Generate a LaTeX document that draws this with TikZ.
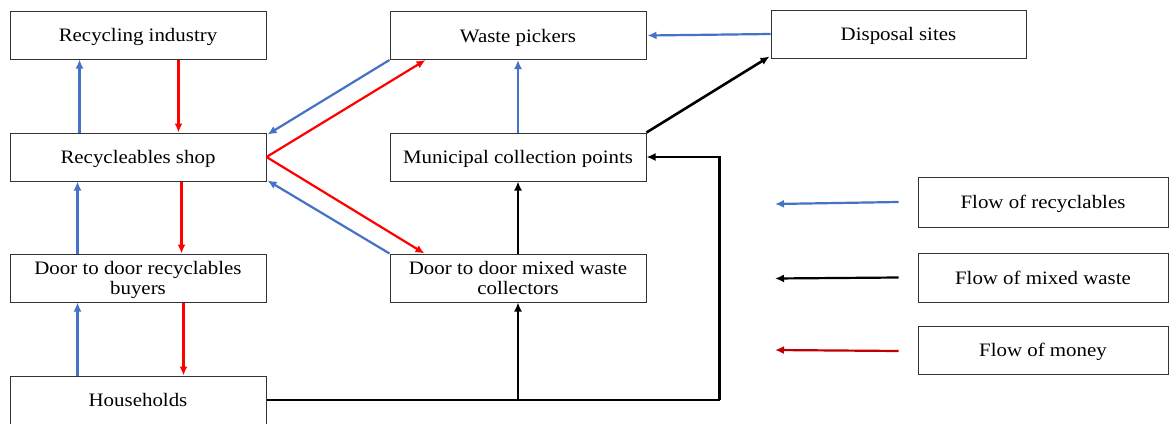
\documentclass[tikz,border=0pt]{standalone}
\usepackage{fontspec}
\setmainfont{Liberation Serif}[FakeStretch=1.1]
\usetikzlibrary{arrows.meta,calc}
\definecolor{flowblue}{HTML}{4472C4}
\definecolor{flowred}{HTML}{FF0000}
\definecolor{legred}{HTML}{C00000}
\begin{document}
\begin{tikzpicture}[x=1pt,y=-1pt,
  box/.style={draw=black!80,line width=1pt,fill=white,minimum width=256pt,minimum height=48pt,
    inner sep=2pt,align=center,text depth=0pt,font=\fontsize{19}{20}\selectfont},
  tip/.style={-{Latex[length=9pt,width=8pt]}},
  rec/.style={tip,draw=flowblue,line width=2.2pt},
  mon/.style={tip,draw=flowred,line width=2.2pt},
  mix/.style={tip,draw=black,line width=2.6pt},
  mixline/.style={draw=black,line width=2.6pt}]
\useasboundingbox (0,0) rectangle (1169,423);
\fill[white] (0,0) rectangle (1169,423);
% nodes
\node[box] (ri) at (138,35) {Recycling industry};
\node[box] (rs) at (138,157) {Recycleables shop};
\node[box] (db) at (138,278) {Door to door recyclables\\buyers};
\node[box] (hh) at (138,400) {Households};
\node[box] (wp) at (518,35.5) {Waste pickers};
\node[box] (mcp) at (518,157) {Municipal collection points};
\node[box] (dmw) at (518,278) {Door to door mixed waste\\collectors};
\node[box,minimum width=255pt] (ds) at (898.5,34) {Disposal sites};
\node[box,minimum width=250pt,minimum height=50pt] (lr) at (1043,202) {Flow of recyclables};
\node[box,minimum width=250pt,minimum height=49pt] (lm) at (1043,277.5) {Flow of mixed waste};
\node[box,minimum width=250pt] (lmo) at (1043,350) {Flow of money};
% left column
\draw[rec] ([xshift=70pt]rs.north west) -- ([xshift=70pt]ri.south west);
\draw[mon] ([xshift=169pt]ri.south west) -- ([xshift=169pt]rs.north west);
\draw[rec] ([xshift=68pt]db.north west) -- ([xshift=68pt]rs.south west);
\draw[mon] ([xshift=172pt]rs.south west) -- ([xshift=172pt]db.north west);
\draw[rec] ([xshift=68pt]hh.north west) -- ([xshift=68pt]db.south west);
\draw[mon] ([xshift=174pt]db.south west) -- ([xshift=174pt]hh.north west);
% diagonals
\draw[rec] (wp.south west) -- ([shift={(1pt,-2pt)}]rs.north east);
\draw[mon] (rs.east) -- ([xshift=36pt]wp.south west);
\draw[mon] (rs.east) -- ([xshift=35pt]dmw.north west);
\draw[rec] (dmw.north west) -- ([shift={(1pt,1pt)}]rs.south east);
% middle column
\draw[rec] (mcp.north) -- (wp.south);
\draw[rec] (ds.west) -- ([xshift=1pt]wp.east);
\draw[mix] (mcp.north east) -- ([shift={(-1pt,2pt)}]ds.south west);
\draw[mix] (dmw.north) -- (mcp.south);
\coordinate (corner) at ([xshift=73pt]mcp.east |- hh.east);
\coordinate (branch) at (dmw.south |- hh.east);
\draw[mixline] (hh.east) -- (corner);
\draw[mix] (corner) |- (mcp.east);
\draw[mix] (branch) -- (dmw.south);
% legend arrows
\coordinate (l1s) at ([xshift=-19pt]lr.west);
\coordinate (l1e) at (775,204);
\coordinate (l2s) at ([xshift=-19pt]lm.west);
\coordinate (l2e) at (775,278.5);
\coordinate (l3s) at ([xshift=-19pt,yshift=-1pt]lmo.west);
\coordinate (l3e) at (775,350);
\draw[rec] (l1s) -- (l1e);
\draw[mix,line width=2.2pt] (l2s) -- (l2e);
\draw[tip,draw=legred,line width=2.2pt] (l3s) -- (l3e);
\end{tikzpicture}
\end{document}
